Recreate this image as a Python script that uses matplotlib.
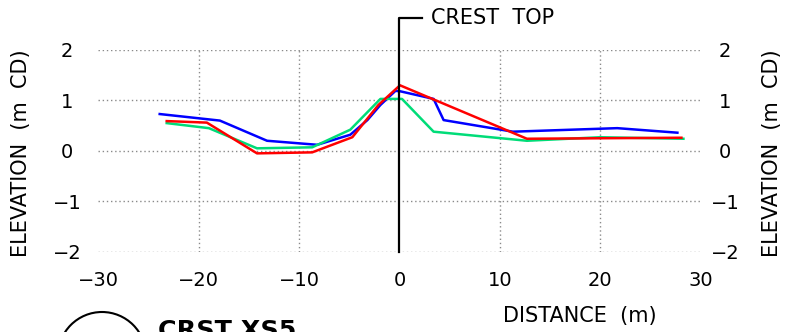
import matplotlib
matplotlib.use('Agg')
from matplotlib import pyplot as plt
from matplotlib.patches import Circle

# profile data (distance m, elevation m CD)
blue_x = [-23.9, -17.9, -13.2, -8.2, -4.9, -3.2, -1.9, -0.4, 0.1, 3.4, 4.4, 11.3, 21.7, 27.7]
blue_y = [0.73, 0.60, 0.20, 0.12, 0.32, 0.61, 0.91, 1.19, 1.18, 1.03, 0.61, 0.38, 0.45, 0.36]

red_x = [-23.2, -19.2, -14.2, -8.7, -4.7, -2.1, 0.05, 12.7, 28.1]
red_y = [0.59, 0.56, -0.05, -0.03, 0.27, 0.91, 1.30, 0.24, 0.26]

green_x = [-23.2, -19.0, -14.2, -8.7, -4.9, -1.9, 0.25, 3.4, 12.7, 20.0, 28.3]
green_y = [0.55, 0.45, 0.05, 0.07, 0.42, 1.03, 1.03, 0.38, 0.20, 0.27, 0.24]

xticks = [-30, -20, -10, 0, 10, 20, 30]
yticks = [-2, -1, 0, 1, 2]

crest_x = 0
crest_label = "CREST  TOP"
title = "CRST XS5"

fig = plt.figure(figsize=(7.86, 3.32), dpi=100)
ax = fig.add_axes([0.1253, 0.2419, 0.7659, 0.6075])
ax.set_xlim(-30, 30)
ax.set_ylim(-2, 2)
for s in ax.spines.values():
    s.set_visible(False)

grid_kw = dict(color='#8a8a8a', linewidth=1.0, linestyle=(0, (1, 2)), zorder=1)
for y in yticks:
    ax.axhline(y, **grid_kw)
for x in xticks[1:-1]:
    if x != crest_x:
        ax.axvline(x, **grid_kw)

ax.plot(blue_x, blue_y, color='#0000ff', lw=1.8, zorder=3)
ax.plot(green_x, green_y, color='#00dc78', lw=1.8, zorder=3)
ax.plot(red_x, red_y, color='#ff0000', lw=1.8, zorder=4)

# crest marker
ax.plot([crest_x, crest_x, 2.2], [-2, 2.635, 2.635], color='black', lw=1.6,
        clip_on=False, zorder=5)
ax.text(3.1, 2.64, crest_label, fontsize=15, va='center', ha='left')

ax.set_xticks(xticks)
ax.set_yticks(yticks)
ax.tick_params(axis='both', length=0, labelsize=14)
ax.tick_params(axis='x', pad=14)
ax.tick_params(axis='y', pad=22.7)
for t in ax.get_yticklabels():
    t.set_horizontalalignment('center')

ax2 = ax.twinx()
ax2.set_ylim(-2, 2)
ax2.set_yticks(yticks)
for s in ax2.spines.values():
    s.set_visible(False)
ax2.tick_params(axis='y', length=0, labelsize=14, pad=17.6)
for t in ax2.get_yticklabels():
    t.set_horizontalalignment('center')

ax.set_ylabel("ELEVATION  (m  CD)", fontsize=15)
ax.yaxis.set_label_coords(-0.112, 0.49)
ax2.set_ylabel("ELEVATION  (m  CD)", fontsize=15, rotation=90)
ax2.yaxis.set_label_coords(1.103, 0.49)
ax.set_xlabel("DISTANCE  (m)", fontsize=15)
ax.xaxis.set_label_coords(0.80, -0.27)

# title block at the bottom, partly cut off
ov = fig.add_axes([0, 0, 1, 1], zorder=-1)
ov.set_xlim(0, 786)
ov.set_ylim(332, 0)
ov.axis('off')
ov.add_patch(Circle((102, 356), 44, fill=False, lw=1.5, color='black'))
ov.text(158, 338.5, title, fontsize=18.3, fontweight='bold', va='baseline', ha='left')

fig.savefig('out.png', dpi=100)
